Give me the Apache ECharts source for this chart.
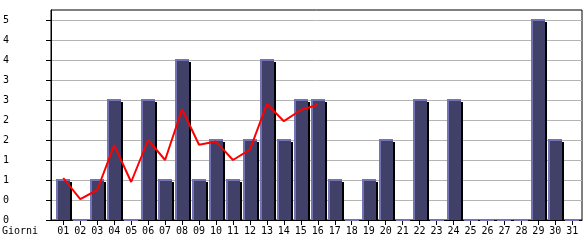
<!DOCTYPE html>
<html>
<head>
<meta charset="utf-8">
<script src="https://cdn.jsdelivr.net/npm/echarts@6/dist/echarts.min.js"></script>
<style>html,body{margin:0;padding:0;background:#fff}#c{width:585px;height:240px}</style>
</head>
<body>
<div id="c"></div>
<script>
const days = ['01','02','03','04','05','06','07','08','09','10','11','12','13','14','15','16','17','18','19','20','21','22','23','24','25','26','27','28','29','30','31'];
const counts = [1,0,1,3,0,3,1,4,1,2,1,2,4,2,3,3,1,0,1,2,0,3,0,3,0,0,0,0,5,2,0];
const trend = [1.05,0.52,0.75,1.87,0.95,2.0,1.5,2.77,1.88,1.96,1.5,1.76,2.9,2.47,2.75,2.88];
const yTickValues = [0,0.5,1,1.5,2,2.5,3,3.5,4,4.5,5];
const yTickLabels = ['0','0','1','1','2','2','3','3','4','4','5'];
const xAxisTitle = 'Giorni';

const dayPos = days.map((d, i) => i + 1);
const barData = counts.map((v, i) => [dayPos[i], v]);
const lineData = trend.map((v, i) => [dayPos[i], v]);

const font = 'DejaVu Sans Mono';
const chart = echarts.init(document.getElementById('c'), null, {renderer: 'canvas'});
chart.setOption({
  animation: false,
  grid: {left: 50, right: 3, top: 10, bottom: 20, show: true, borderColor: '#000', borderWidth: 1},
  xAxis: {
    type: 'value', min: 0.276, max: 31.57,
    axisLine: {show: true, lineStyle: {color: '#000', width: 1}},
    axisTick: {show: true, length: 5, lineStyle: {color: '#000'}, customValues: dayPos},
    axisLabel: {customValues: dayPos, margin: 6, color: '#000', fontFamily: font, fontSize: 10,
      formatter: v => days[dayPos.indexOf(Math.round(v))]},
    splitLine: {show: false}
  },
  yAxis: {
    type: 'value', min: 0, max: 5.25, interval: 0.5,
    axisLine: {show: true, lineStyle: {color: '#000', width: 1}},
    axisTick: {show: true, length: 5, lineStyle: {color: '#000'}, customValues: yTickValues},
    axisLabel: {customValues: yTickValues, align: 'left', margin: 48, color: '#000', fontFamily: font, fontSize: 10,
      formatter: v => {
        let k = 0, best = Infinity;
        yTickValues.forEach((t, i) => { if (Math.abs(t - v) < best) { best = Math.abs(t - v); k = i; } });
        return yTickLabels[k];
      }},
    splitLine: {show: true, lineStyle: {color: '#b4b4b4', width: 1}}
  },
  graphic: [{type: 'text', left: 2, top: 226, style: {text: xAxisTitle, font: '10px "DejaVu Sans Mono"', fill: '#000'}}],
  series: [
    {
      type: 'custom',
      data: barData,
      z: 2,
      renderItem: function (params, api) {
        const x = api.value(0), v = api.value(1);
        const top = api.coord([x, v]);
        const base = api.coord([x, 0]);
        const w = api.size([1, 0])[0];
        const bw = Math.round(w * 0.82);
        const left = Math.round(top[0] - bw / 2);
        const t = Math.round(top[1]);
        const b = Math.round(base[1]);
        const h = b - t;
        const children = [];
        if (h > 2) {
          children.push({type: 'rect', shape: {x: left + bw, y: t + 2, width: 2, height: h - 2}, style: {fill: '#000'}});
          children.push({type: 'rect', shape: {x: left, y: t, width: bw, height: h}, style: {fill: '#404068'}});
          children.push({type: 'rect', shape: {x: left, y: t, width: 2, height: h}, style: {fill: '#7474b4'}});
        }
        children.push({type: 'rect', shape: {x: left, y: t - 1, width: bw, height: 2}, style: {fill: '#7474b4'}});
        return {type: 'group', children: children};
      }
    },
    {
      type: 'line',
      data: lineData,
      z: 5,
      showSymbol: false,
      symbol: 'none',
      lineStyle: {color: '#ff0000', width: 2},
      itemStyle: {color: '#ff0000'}
    }
  ]
});
</script>
</body>
</html>
